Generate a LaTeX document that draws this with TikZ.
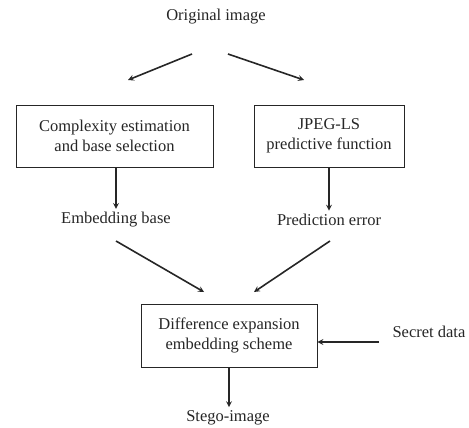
\documentclass[tikz,border=0pt]{standalone}
\usepackage{fontspec}
\setmainfont{Liberation Serif}
\usepackage{tikz}
\usetikzlibrary{arrows, positioning, calc}

\begin{document}
\begin{tikzpicture}[>=stealth, x=1pt, y=-1pt,
    every node/.style={font=\fontsize{16.5}{20}\selectfont, color=black!85},
    procbox/.style={draw, thick, align=center, minimum height=62pt, inner sep=2pt},
    flow/.style={->, line width=1.6pt, black!85}]

      \useasboundingbox (0, 0) rectangle (469, 428);

      \node (orig) at (216, 17) {Original image};

      \node[procbox, minimum width=197pt] (cplx) at (114.5, 136) {Complexity estimation\\and base selection};
      \node[procbox, minimum width=150pt] (jpeg) at (329, 136) {JPEG-LS\\predictive function};

      \node (base) at (116, 220) {Embedding base};
      \node (perr) at (329, 220) {Prediction error};

      \node[procbox, minimum width=176pt, minimum height=63pt] (diff) at (229, 335.5) {Difference expansion\\embedding scheme};
      \node[anchor=west] (secret) at (389, 332) {Secret data};
      \node (stego) at (228, 418) {Stego-image};

      \coordinate (o1) at (192, 54);
      \coordinate (o2) at (228, 54);
      \coordinate (c1) at (128, 80);
      \coordinate (j1) at (304, 80);
      \coordinate (b1) at (116, 241);
      \coordinate (p1) at (330, 241);
      \coordinate (d1) at (204, 292);
      \coordinate (d2) at (254, 292);
      \coordinate (s1) at (379, 342);

      \draw[flow] (o1) -- (c1);
      \draw[flow] (o2) -- (j1);
      \draw[flow] (cplx.south -| base) -- (base.north);
      \draw[flow] (jpeg.south) -- (perr.north);
      \draw[flow] (b1) -- (d1);
      \draw[flow] (p1) -- (d2);
      \draw[flow] (s1) -- (diff.east |- s1);
      \draw[flow] (diff.south) -- (diff.south |- stego.north);

\end{tikzpicture}
\end{document}
